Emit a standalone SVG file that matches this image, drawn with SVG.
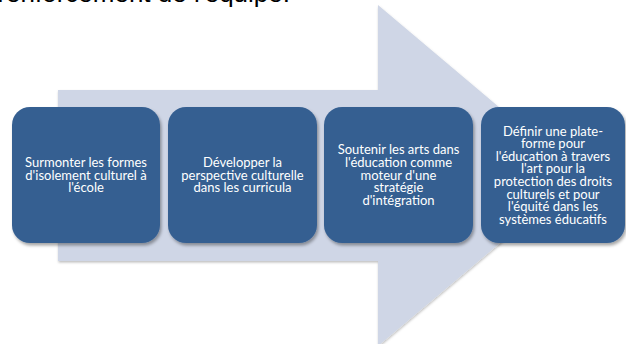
<svg xmlns="http://www.w3.org/2000/svg" width="626" height="344" viewBox="0 0 626 344">
<style>
.box{fill:#355F91;filter:url(#sh);}
.t{font-family:Lato,"Open Sans","Liberation Sans",sans-serif;font-size:13px;fill:#ffffff;text-anchor:middle;}
.title{font-family:"Liberation Sans",Arial,sans-serif;font-size:26px;fill:#000000;text-anchor:end;}
</style>
<defs>
<filter id="sh" x="-10%" y="-10%" width="125%" height="125%">
<feDropShadow dx="1.5" dy="2.5" stdDeviation="1.6" flood-color="#000000" flood-opacity="0.35"/>
</filter>
<filter id="ash" x="-5%" y="-5%" width="110%" height="110%">
<feDropShadow dx="0.5" dy="1.5" stdDeviation="1" flood-color="#000000" flood-opacity="0.25"/>
</filter>
</defs>
<text class="title" x="290" y="2">renforcement de l'équipe.</text>
<g id="connectors">
<path id="arrow" d="M58,90 H378 V5 L580,175.5 L378,346 V261 H58 Z" fill="#CFD6E6" filter="url(#ash)"/>
</g>
<g id="node1">
<rect class="box" x="12" y="107" width="148" height="136" rx="18" ry="18"/>
<text class="t" x="86" y="167">Surmonter les formes</text>
<text class="t" x="86" y="179.6">d'isolement culturel à</text>
<text class="t" x="86" y="192.2">l'école</text>
</g>
<g id="node2">
<rect class="box" x="168" y="107" width="149" height="136" rx="18" ry="18"/>
<text class="t" x="242.5" y="167">Développer la</text>
<text class="t" x="242.5" y="179.6">perspective culturelle</text>
<text class="t" x="242.5" y="192.2">dans les curricula</text>
</g>
<g id="node3">
<rect class="box" x="324" y="107" width="149" height="136" rx="18" ry="18"/>
<text class="t" x="398.5" y="154.4">Soutenir les arts dans</text>
<text class="t" x="398.5" y="167">l'éducation comme</text>
<text class="t" x="398.5" y="179.6">moteur d'une</text>
<text class="t" x="398.5" y="192.2">stratégie</text>
<text class="t" x="398.5" y="204.8">d'intégration</text>
</g>
<g id="node4">
<rect class="box" x="481" y="107" width="144" height="136" rx="18" ry="18"/>
<text class="t" x="553" y="135.5">Définir une plate-</text>
<text class="t" x="553" y="148.1">forme pour</text>
<text class="t" x="553" y="160.7">l'éducation à travers</text>
<text class="t" x="553" y="173.3">l'art pour la</text>
<text class="t" x="553" y="185.9">protection des droits</text>
<text class="t" x="553" y="198.5">culturels et pour</text>
<text class="t" x="553" y="211.1">l'équité dans les</text>
<text class="t" x="553" y="223.7">systèmes éducatifs</text>
</g>
</svg>
